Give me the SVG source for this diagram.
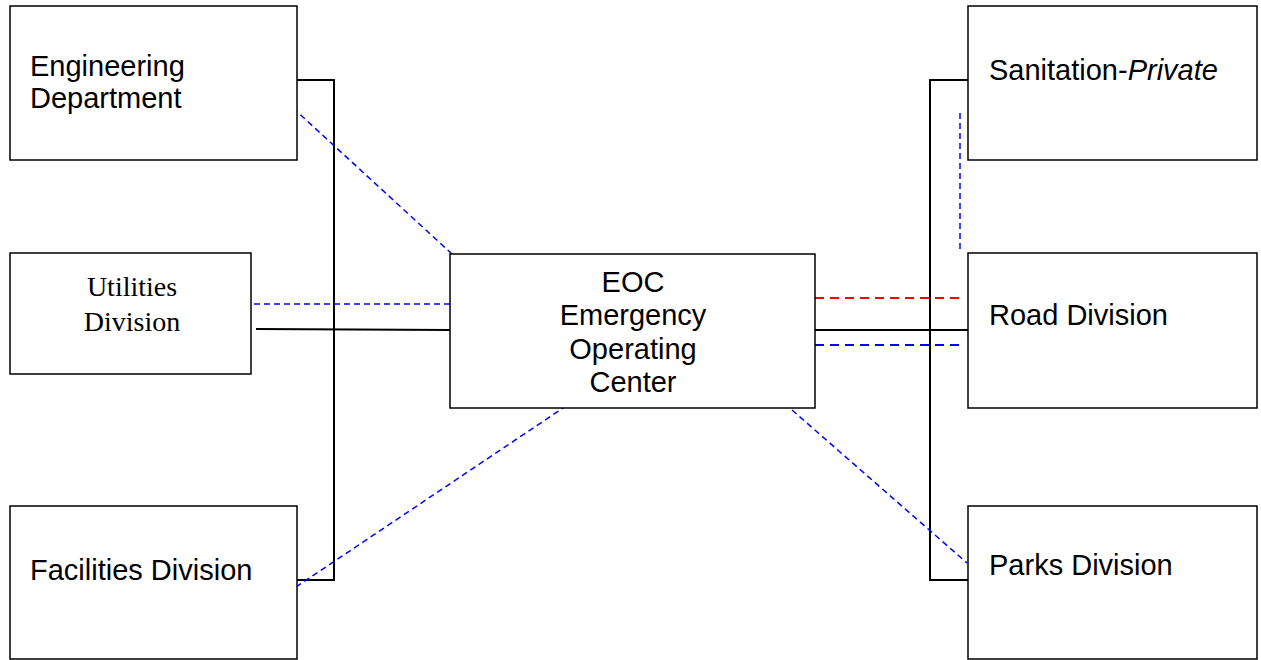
<svg xmlns="http://www.w3.org/2000/svg" width="1261" height="660" viewBox="0 0 1261 660">
<style>
.box{fill:#fff;stroke:#000;stroke-width:1.5}
.sans{font-family:"Liberation Sans",Arial,sans-serif;font-size:29px;fill:#000}
.serif{font-family:"Liberation Serif","Times New Roman",serif;font-size:28px;fill:#000}
.solid{fill:none;stroke:#000;stroke-width:2}
.blue{fill:none;stroke:#0000ff;stroke-width:1.5;stroke-dasharray:6 4}
.red{fill:none;stroke:#ff0000;stroke-width:2;stroke-dasharray:9 6}
.bluew{fill:none;stroke:#0000ff;stroke-width:2;stroke-dasharray:9 6}
</style>
<rect width="1261" height="660" fill="#fff"/>
<g id="connectors">
<polyline class="solid" points="297,80 334,80 334,580 297,580"/>
<polyline class="solid" points="968,80 930,80 930,580 968,580"/>
<line class="solid" x1="256" y1="329" x2="450" y2="330"/>
<line class="solid" x1="815" y1="330" x2="968" y2="330"/>
<line class="blue" x1="293" y1="108" x2="452" y2="254"/>
<line class="blue" x1="254" y1="304" x2="450" y2="304"/>
<line class="blue" x1="575" y1="400" x2="293" y2="589"/>
<line class="blue" x1="792" y1="410" x2="967" y2="563"/>
<line class="blue" x1="960" y1="113" x2="960" y2="253"/>
<line class="red" x1="815" y1="298" x2="965" y2="298"/>
<line class="bluew" x1="815" y1="345" x2="965" y2="345"/>
</g>
<g id="engineering">
<rect class="box" x="10" y="6" width="287" height="154"/>
<text class="sans" x="30" y="76">Engineering</text>
<text class="sans" x="30" y="108">Department</text>
</g>
<g id="utilities">
<rect class="box" x="10" y="253" width="241" height="121"/>
<text class="serif" x="132" y="296" text-anchor="middle">Utilities</text>
<text class="serif" x="132" y="331" text-anchor="middle">Division</text>
</g>
<g id="facilities">
<rect class="box" x="10" y="506" width="287" height="153"/>
<text class="sans" x="30" y="580">Facilities Division</text>
</g>
<g id="eoc">
<rect class="box" x="450" y="254" width="365" height="154"/>
<text class="sans" x="633" y="292" text-anchor="middle">EOC</text>
<text class="sans" x="633" y="325" text-anchor="middle">Emergency</text>
<text class="sans" x="633" y="359" text-anchor="middle">Operating</text>
<text class="sans" x="633" y="392" text-anchor="middle">Center</text>
</g>
<g id="sanitation">
<rect class="box" x="968" y="6" width="289" height="154"/>
<text class="sans" x="989" y="80">Sanitation-<tspan font-style="italic">Private</tspan></text>
</g>
<g id="road">
<rect class="box" x="968" y="253" width="289" height="155"/>
<text class="sans" x="989" y="325">Road Division</text>
</g>
<g id="parks">
<rect class="box" x="968" y="506" width="289" height="153"/>
<text class="sans" x="989" y="575">Parks Division</text>
</g>
</svg>
